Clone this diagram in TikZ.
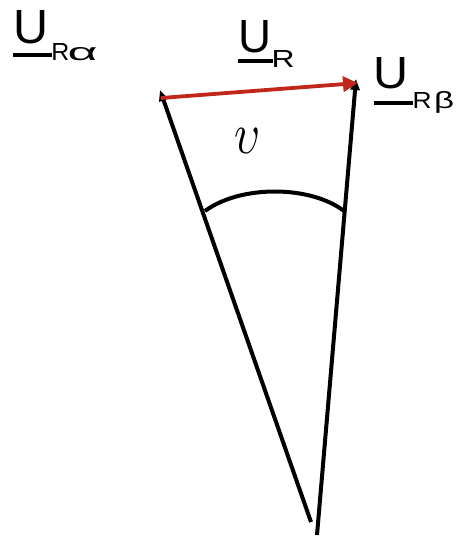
\documentclass[tikz,border=0pt]{standalone}
\usepackage{graphicx}
\usepackage{fontspec}
\setmainfont{Liberation Sans}
\usetikzlibrary{arrows.meta}
\definecolor{vred}{RGB}{192,38,26}
\tikzset{
  lbl/.style={inner sep=0pt, anchor=base},
  uline/.style={line width=3.2pt},
  vec/.style={line width=4pt, -{Triangle[length=11pt,width=9pt]}},
  redvec/.style={line width=3.8pt, vred, -{Triangle[length=15pt,width=15pt]}},
  arcline/.style={line width=4pt}
}
\begin{document}
\begin{tikzpicture}[x=1pt,y=-1pt]
\useasboundingbox (0,0) rectangle (459,536);
% labels
\node[lbl] (uA) at (31,43) {\resizebox{35pt}{33pt}{U}};
\node[lbl] (sA) at (60.5,60) {\resizebox{18pt}{17pt}{R}};
\node[lbl] (gA) at (82.5,60) {\resizebox{30pt}{13pt}{α}};
\node[lbl] (uR) at (255,52) {\resizebox{33pt}{32pt}{U}};
\node[lbl] (sR) at (283,67) {\resizebox{23pt}{17pt}{R}};
\node[lbl] (uB) at (391,88) {\resizebox{35pt}{31pt}{U}};
\node[lbl] (sB) at (422,108) {\resizebox{19pt}{16pt}{R}};
\node[lbl] (gB) at (444,108) {\resizebox{20pt}{17pt}{β}};
\draw[uline] (13,55) -- (52,55);
\draw[uline] (238,61) -- (273,61);
\draw[uline] (374,103) -- (413,103);
% vectors
\coordinate (o1) at (311,522);
\coordinate (o2) at (317,535);
\coordinate (a) at (160,90);
\coordinate (b) at (356,79);
\coordinate (r1) at (161,98);
\coordinate (r2) at (358,83);
\draw[vec] (o1) -- (a);
\draw[vec] (o2) -- (b);
\draw[redvec] (r1) -- (r2);
% angle arc
\coordinate (p1) at (205,211);
\coordinate (p2) at (344,211);
\draw[arcline] (p1) .. controls (240,185) and (310,185) .. (p2);
\node[inner sep=0pt] (ups) at (247.5,140.5) {\resizebox{26pt}{25pt}{$\upsilon$}};
\end{tikzpicture}
\end{document}
